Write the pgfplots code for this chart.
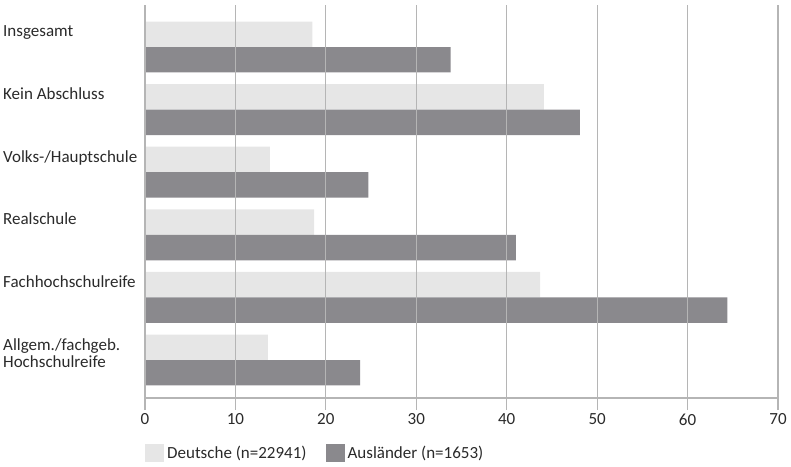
\documentclass[border=0pt]{standalone}
\usepackage{pgfplots}
\pgfplotsset{compat=1.18}
\usepackage{fontspec}
\setmainfont{Carlito}
\definecolor{lightbar}{HTML}{E6E6E6}
\definecolor{darkbar}{HTML}{8A898D}
\definecolor{gridc}{HTML}{B5B5B5}
\definecolor{txt}{HTML}{2A2A2A}
\newcommand{\chartfont}{\fontsize{17bp}{17bp}\selectfont}
\begin{document}
\begin{tikzpicture}
\useasboundingbox (0,0) rectangle (791bp,467bp);
\begin{axis}[
  at={(145bp,69bp)}, anchor=south west,
  width=633bp, height=393bp, scale only axis,
  xbar,
  xmin=0, xmax=70, ymin=-0.671, ymax=5.607, y dir=reverse,
  axis on top,
  axis x line*=bottom, axis y line*=left,
  x axis line style={gridc, line width=1.2pt},
  y axis line style={draw=none},
  xtick={0,10,...,70},
  xmajorgrids, grid style={gridc, line width=1.2pt},
  xtick align=outside, major tick length=12bp,
  xtick style={gridc, line width=1.2pt},
  /pgf/number format/assume math mode=true,
  xticklabel style={font=\chartfont, text=txt},
  ytick={-0.351,0.649,1.649,2.649,3.649,4.649},
  yticklabels={Insgesamt,Kein Abschluss,Volks-/Hauptschule,Realschule,Fachhochschulreife,{Allgem./fachgeb.\\Hochschulreife}},
  ytick style={draw=none},
  yticklabel style={anchor=north west, inner sep=0pt, xshift=-130bp, align=left, font=\chartfont, text=txt},
  legend columns=2,
  legend style={at={(0,0)}, anchor=west, yshift=-55bp, draw=none, fill=none, inner sep=0pt, font=\chartfont, text=txt,
    nodes={inner xsep=3bp, font=\chartfont, text=txt},
    /tikz/every even column/.append style={column sep=16bp}},
  legend cell align=left,
  legend image code/.code={\fill[#1] (0bp,-9bp) rectangle (19bp,9bp);},
]
\addplot[fill=lightbar, draw=none, bar shift=-0.2037, bar width=0.407] coordinates {(18.5,0) (44.1,1) (13.8,2) (18.7,3) (43.7,4) (13.6,5)};
\addplot[fill=darkbar, draw=none, bar shift=0.2037, bar width=0.407] coordinates {(33.8,0) (48.1,1) (24.7,2) (41.0,3) (64.4,4) (23.8,5)};
\legend{Deutsche (n=22941), Ausländer (n=1653)}
\end{axis}
\end{tikzpicture}
\end{document}
